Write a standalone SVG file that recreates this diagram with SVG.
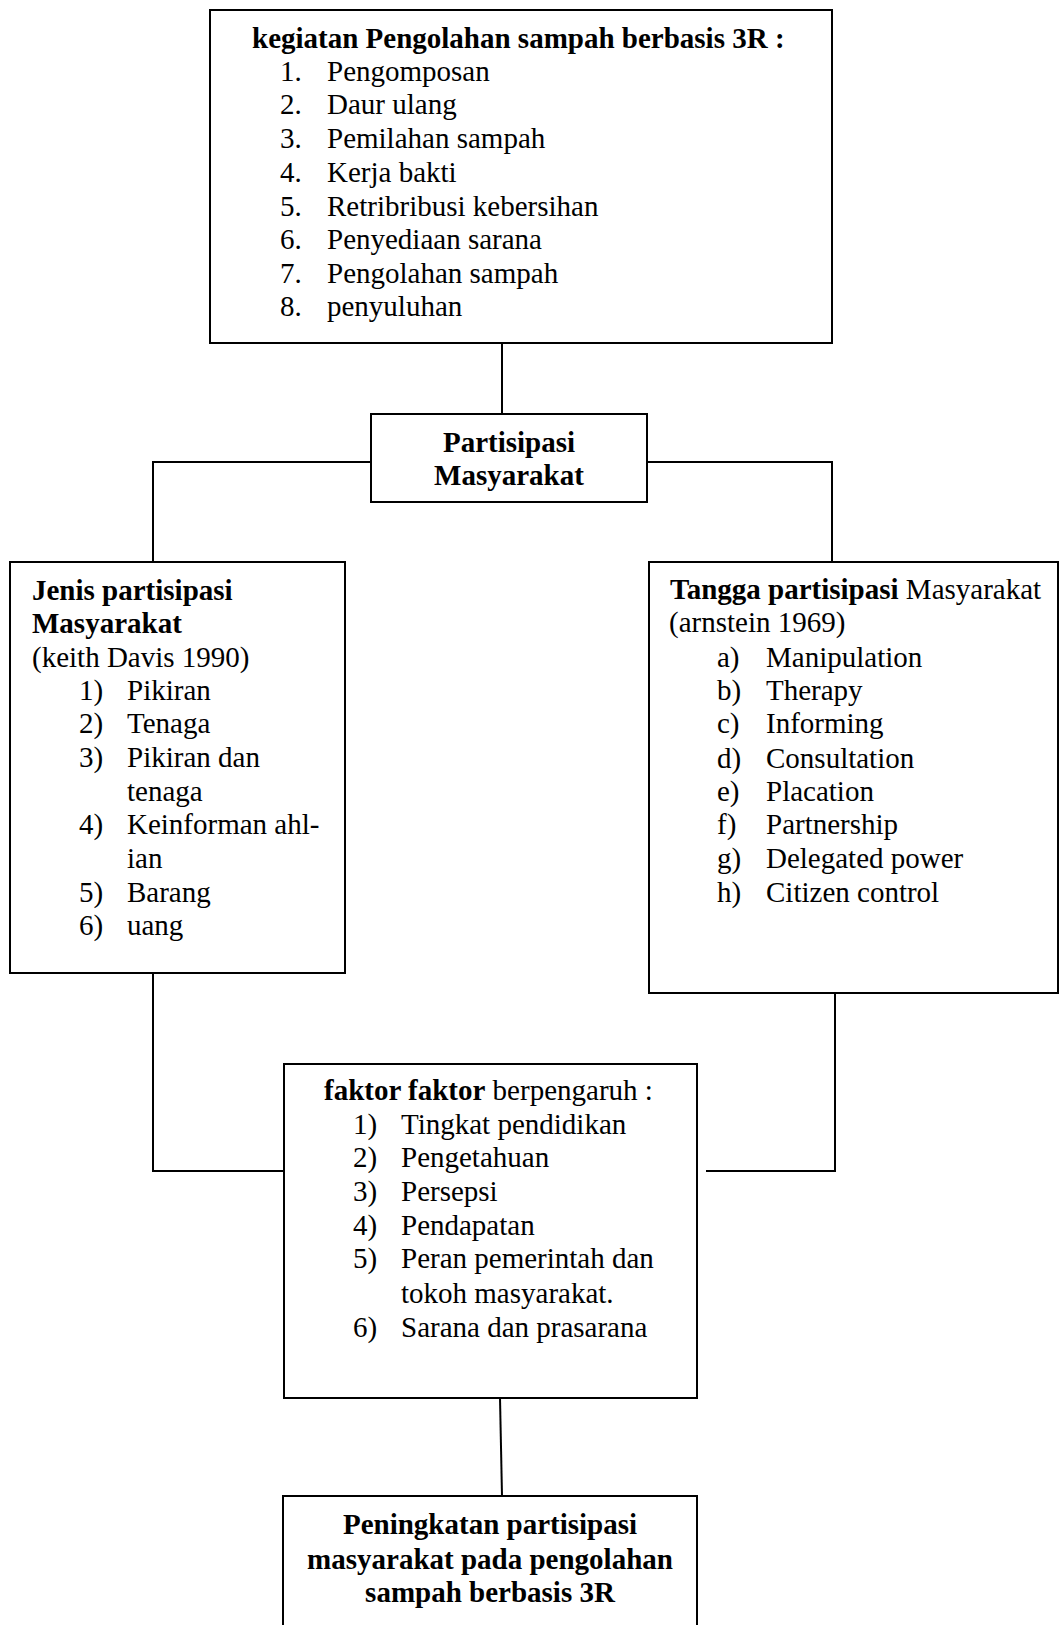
<svg xmlns="http://www.w3.org/2000/svg" width="1059" height="1625" viewBox="0 0 1059 1625">
<style>
  .box { fill: #ffffff; stroke: #000000; stroke-width: 2; }
  .conn { fill: none; stroke: #000000; stroke-width: 2; }
  text { font-family: "Liberation Serif", "Times New Roman", serif; font-size: 29px; fill: #000000; }
  .b { font-weight: bold; }
  .c { text-anchor: middle; }
</style>
<rect x="0" y="0" width="1059" height="1625" fill="#ffffff"/>

<g id="connectors">
  <path class="conn" d="M502,343 V414"/>
  <path class="conn" d="M371,462 H153 V562"/>
  <path class="conn" d="M647,462 H832 V562"/>
  <path class="conn" d="M153,973 V1171 H284"/>
  <path class="conn" d="M835,993 V1171 H706"/>
  <path class="conn" d="M500,1398 L502,1496"/>
</g>

<g id="node-kegiatan">
  <rect class="box" x="210" y="10" width="622" height="333"/>
  <text class="b" x="252" y="48">kegiatan Pengolahan sampah berbasis 3R :</text>
  <text x="280" y="81">1.</text><text x="327" y="81">Pengomposan</text>
  <text x="280" y="114">2.</text><text x="327" y="114">Daur ulang</text>
  <text x="280" y="148">3.</text><text x="327" y="148">Pemilahan sampah</text>
  <text x="280" y="182">4.</text><text x="327" y="182">Kerja bakti</text>
  <text x="280" y="216">5.</text><text x="327" y="216">Retribribusi kebersihan</text>
  <text x="280" y="249">6.</text><text x="327" y="249">Penyediaan sarana</text>
  <text x="280" y="283">7.</text><text x="327" y="283">Pengolahan sampah</text>
  <text x="280" y="316">8.</text><text x="327" y="316">penyuluhan</text>
</g>

<g id="node-partisipasi">
  <rect class="box" x="371" y="414" width="276" height="88"/>
  <text class="b c" x="509" y="452">Partisipasi</text>
  <text class="b c" x="509" y="485">Masyarakat</text>
</g>

<g id="node-jenis">
  <rect class="box" x="10" y="562" width="335" height="411"/>
  <text class="b" x="32" y="600">Jenis partisipasi</text>
  <text class="b" x="32" y="633">Masyarakat</text>
  <text x="32" y="667">(keith Davis 1990)</text>
  <text x="79" y="700">1)</text><text x="127" y="700">Pikiran</text>
  <text x="79" y="733">2)</text><text x="127" y="733">Tenaga</text>
  <text x="79" y="767">3)</text><text x="127" y="767">Pikiran dan</text>
  <text x="127" y="801">tenaga</text>
  <text x="79" y="834">4)</text><text x="127" y="834">Keinforman ahl-</text>
  <text x="127" y="868">ian</text>
  <text x="79" y="902">5)</text><text x="127" y="902">Barang</text>
  <text x="79" y="935">6)</text><text x="127" y="935">uang</text>
</g>

<g id="node-tangga">
  <rect class="box" x="649" y="562" width="409" height="431"/>
  <text x="670" y="599"><tspan class="b">Tangga partisipasi</tspan> Masyarakat</text>
  <text x="669" y="632">(arnstein 1969)</text>
  <text x="717" y="667">a)</text><text x="766" y="667">Manipulation</text>
  <text x="717" y="700">b)</text><text x="766" y="700">Therapy</text>
  <text x="717" y="733">c)</text><text x="766" y="733">Informing</text>
  <text x="717" y="768">d)</text><text x="766" y="768">Consultation</text>
  <text x="717" y="801">e)</text><text x="766" y="801">Placation</text>
  <text x="717" y="834">f)</text><text x="766" y="834">Partnership</text>
  <text x="717" y="868">g)</text><text x="766" y="868">Delegated power</text>
  <text x="717" y="902">h)</text><text x="766" y="902">Citizen control</text>
</g>

<g id="node-faktor">
  <rect class="box" x="284" y="1064" width="413" height="334"/>
  <text x="324" y="1100"><tspan class="b">faktor faktor</tspan> berpengaruh :</text>
  <text x="353" y="1134">1)</text><text x="401" y="1134">Tingkat pendidikan</text>
  <text x="353" y="1167">2)</text><text x="401" y="1167">Pengetahuan</text>
  <text x="353" y="1201">3)</text><text x="401" y="1201">Persepsi</text>
  <text x="353" y="1235">4)</text><text x="401" y="1235">Pendapatan</text>
  <text x="353" y="1268">5)</text><text x="401" y="1268">Peran pemerintah dan</text>
  <text x="401" y="1303">tokoh masyarakat.</text>
  <text x="353" y="1337">6)</text><text x="401" y="1337">Sarana dan prasarana</text>
</g>

<g id="node-peningkatan">
  <rect class="box" x="283" y="1496" width="414" height="150"/>
  <text class="b c" x="490" y="1534">Peningkatan partisipasi</text>
  <text class="b c" x="490" y="1569">masyarakat pada pengolahan</text>
  <text class="b c" x="490" y="1602">sampah berbasis 3R</text>
</g>
</svg>
